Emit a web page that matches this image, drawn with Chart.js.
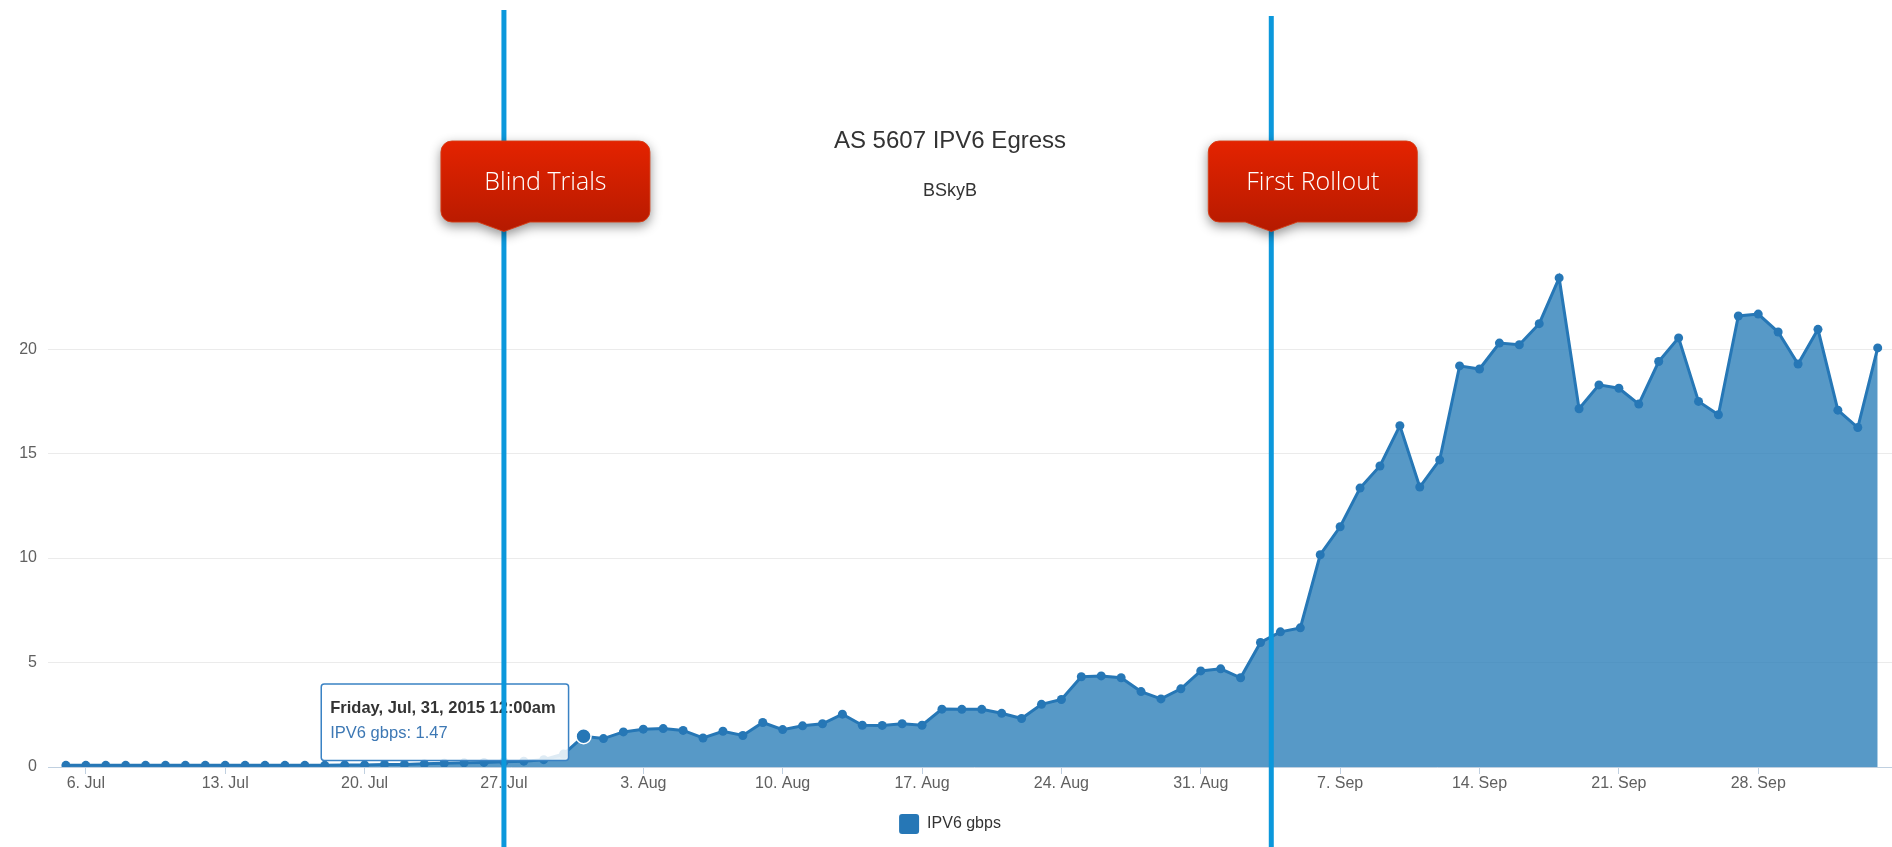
<!DOCTYPE html>
<html>
<head>
<meta charset="utf-8">
<title>AS 5607 IPV6 Egress</title>
<script src="https://cdn.jsdelivr.net/npm/chart.js@4.4.1/dist/chart.umd.min.js"></script>
<style>
  html, body { margin: 0; padding: 0; background: #fff; overflow: hidden; }
  #wrap { width: 1910px; height: 847px; }
</style>
</head>
<body>
<div id="wrap"><canvas id="egress-chart" width="1910" height="847"></canvas></div>
<script>
/* ============================================================
   AS 5607 IPV6 EGRESS — daily gbps, 5 Jul – 4 Oct 2015
   ============================================================ */

const START_DAY = '2015-07-05';   // first daily point

// one value per day, starting at START_DAY
const ipv6Gbps = [
  // Jul 5 - 31
  0.08, 0.08, 0.08, 0.08, 0.08, 0.08, 0.08, 0.08, 0.08, 0.08,
  0.08, 0.08, 0.08, 0.08, 0.1, 0.1, 0.12, 0.12, 0.15, 0.18,
  0.2, 0.22, 0.25, 0.28, 0.35, 0.62, 1.47,
  // Aug 1 - 31
  1.36, 1.68, 1.81, 1.84, 1.75, 1.39, 1.71, 1.51, 2.13, 1.79,
  1.97, 2.07, 2.53, 2.0, 1.99, 2.07, 2.0, 2.77, 2.76, 2.76,
  2.57, 2.32, 3.0, 3.23, 4.32, 4.36, 4.27, 3.61, 3.26, 3.74, 4.6,
  // Sep 1 - 30
  4.7, 4.27, 5.96, 6.47, 6.66, 10.16, 11.5, 13.35, 14.41, 16.34,
  13.4, 14.7, 19.2, 19.05, 20.29, 20.21, 21.22, 23.41, 17.15, 18.29,
  18.13, 17.37, 19.41, 20.54, 17.5, 16.86, 21.59, 21.68, 20.82, 19.29,
  // Oct 1 - 4
  20.95, 17.08, 16.25, 20.06,
];

const tickDates = ['2015-07-06', '2015-07-13', '2015-07-20', '2015-07-27', '2015-08-03', '2015-08-10',
  '2015-08-17', '2015-08-24', '2015-08-31', '2015-09-07', '2015-09-14', '2015-09-21', '2015-09-28'];
const tickLabels = ['6. Jul', '13. Jul', '20. Jul', '27. Jul', '3. Aug', '10. Aug',
  '17. Aug', '24. Aug', '31. Aug', '7. Sep', '14. Sep', '21. Sep', '28. Sep'];
const yTicks = [0, 5, 10, 15, 20];

// annotations
const markerLabels = ['Blind Trials', 'First Rollout'];
const markerDates = ['2015-07-27T00:00', '2015-09-03T13:00'];
const hoverDate = '2015-07-31';

const WEEKDAYS = ['Sunday', 'Monday', 'Tuesday', 'Wednesday', 'Thursday', 'Friday', 'Saturday'];
const MONTHS = ['Jan', 'Feb', 'Mar', 'Apr', 'May', 'Jun', 'Jul', 'Aug', 'Sep', 'Oct', 'Nov', 'Dec'];

const DAY_MS = 86400000;
const START_MS = Date.parse(START_DAY + 'T00:00:00Z');

function dayIndex(str) {
  const iso = str.length === 10 ? str + 'T00:00:00Z' : str + ':00Z';
  return (Date.parse(iso) - START_MS) / DAY_MS;
}

function tooltipTitle(offset) {
  const d = new Date(START_MS + offset * DAY_MS);
  return `${WEEKDAYS[d.getUTCDay()]}, ${MONTHS[d.getUTCMonth()]}, ${d.getUTCDate()}, ${d.getUTCFullYear()} 12:00am`;
}

const SERIES_COLOR = '#2677b6';
const FONT = "'Liberation Sans', Arial, Helvetica, sans-serif";

Chart.defaults.font.family = FONT;
Chart.defaults.color = '#606060';

// tooltip sits to the left of the hovered point, like the Highcharts original
Chart.Tooltip.positioners.leftOfPoint = function (items) {
  if (!items.length) return false;
  const el = items[0].element;
  return { x: el.x, y: el.y - 14 };
};

// ---- ROLLOUT MARKERS (vertical line + red callout) ----
function calloutPath(ctx, left, top, w, h, r, tipX, tipY) {
  const bottom = top + h;
  ctx.beginPath();
  ctx.moveTo(left + r, top);
  ctx.lineTo(left + w - r, top);
  ctx.arcTo(left + w, top, left + w, top + r, r);
  ctx.lineTo(left + w, bottom - r);
  ctx.arcTo(left + w, bottom, left + w - r, bottom, r);
  ctx.lineTo(tipX + 26, bottom);
  ctx.lineTo(tipX, tipY);
  ctx.lineTo(tipX - 26, bottom);
  ctx.lineTo(left + r, bottom);
  ctx.arcTo(left, bottom, left, bottom - r, r);
  ctx.lineTo(left, top + r);
  ctx.arcTo(left, top, left + r, top, r);
  ctx.closePath();
}

const markerPlugin = {
  id: 'rolloutMarkers',
  afterDraw(chart) {
    const { ctx } = chart;
    const xs = chart.scales.x;
    const lineTops = [10, 16];

    markerDates.forEach((d, i) => {
      const px = xs.getPixelForValue(dayIndex(d));
      ctx.save();
      ctx.strokeStyle = '#0b98dc';
      ctx.lineWidth = 5;
      ctx.beginPath();
      ctx.moveTo(px, lineTops[i]);
      ctx.lineTo(px, chart.height);
      ctx.stroke();
      ctx.restore();
    });

    markerDates.forEach((d, i) => {
      const px = xs.getPixelForValue(dayIndex(d));
      const left = px - 63, top = 141, w = 209, h = 81;
      ctx.save();
      const grad = ctx.createLinearGradient(0, top, 0, top + h + 10);
      grad.addColorStop(0, '#e42300');
      grad.addColorStop(1, '#b51a00');
      ctx.shadowColor = 'rgba(0,0,0,0.45)';
      ctx.shadowBlur = 12;
      ctx.shadowOffsetY = 4;
      calloutPath(ctx, left, top, w, h, 11, px, top + h + 9.5);
      ctx.fillStyle = grad;
      ctx.fill();
      ctx.shadowColor = 'transparent';
      ctx.strokeStyle = 'rgba(214,60,20,0.9)';
      ctx.lineWidth = 1;
      ctx.stroke();
      ctx.fillStyle = '#fff';
      ctx.font = "300 25px 'Open Sans', Lato, sans-serif";
      ctx.textAlign = 'center';
      ctx.textBaseline = 'middle';
      ctx.fillText(markerLabels[i], left + w / 2, top + 42);
      ctx.restore();
    });
  },
};

const seriesData = ipv6Gbps.map((v, i) => ({ x: i, y: v }));

const chart = new Chart(document.getElementById('egress-chart'), {
  type: 'line',
  data: {
    datasets: [{
      label: 'IPV6 gbps',
      data: seriesData,
      borderColor: SERIES_COLOR,
      backgroundColor: 'rgba(37,122,182,0.77)',
      fill: 'origin',
      borderWidth: 3,
      tension: 0,
      pointRadius: 4.5,
      pointBackgroundColor: SERIES_COLOR,
      pointBorderWidth: 0,
      pointHoverRadius: 7.5,
      pointHoverBackgroundColor: SERIES_COLOR,
      pointHoverBorderColor: '#ffffff',
      pointHoverBorderWidth: 1.5,
    }],
  },
  options: {
    responsive: false,
    animation: false,
    events: [],
    layout: { padding: { left: 0, right: 10, top: 0, bottom: 3 } },
    scales: {
      x: {
        type: 'linear',
        min: -0.9,
        max: 92.12,
        afterBuildTicks: s => { s.ticks = tickDates.map(d => ({ value: dayIndex(d) })); },
        afterFit: s => { s.height = 34; },
        grid: { drawOnChartArea: false, drawTicks: true, tickLength: 7, color: '#C0D0E0' },
        border: { display: true, color: '#C0D0E0', width: 1 },
        ticks: {
          autoSkip: false, maxRotation: 0, padding: 0,
          color: '#606060', font: { size: 16 },
          callback: (v, i) => tickLabels[i],
        },
      },
      y: {
        min: 0,
        max: 24,
        afterBuildTicks: s => { s.ticks = yTicks.map(v => ({ value: v })); },
        afterFit: s => { s.width = 48; },
        grid: { color: '#ebebeb', drawTicks: false },
        border: { display: false },
        ticks: { padding: 11, color: '#606060', font: { size: 16 } },
      },
    },
    plugins: {
      title: {
        display: true,
        text: 'AS 5607 IPV6 Egress',
        color: '#333333',
        font: { size: 24, weight: 'normal' },
        padding: { top: 127, bottom: 4 },
      },
      subtitle: {
        display: true,
        text: 'BSkyB',
        color: '#333333',
        font: { size: 18, weight: 'normal' },
        padding: { top: 20, bottom: 64.2 },
      },
      legend: {
        position: 'bottom',
        labels: {
          boxWidth: 20, boxHeight: 20, padding: 13,
          color: '#333333', font: { size: 16 },
          useBorderRadius: true, borderRadius: 3,
          generateLabels: c => Chart.defaults.plugins.legend.labels.generateLabels(c)
            .map(l => ({ ...l, fillStyle: SERIES_COLOR, strokeStyle: SERIES_COLOR, lineWidth: 0 })),
        },
      },
      tooltip: {
        position: 'leftOfPoint',
        xAlign: 'right',
        yAlign: 'center',
        caretSize: 0,
        caretPadding: 15,
        cornerRadius: 3,
        backgroundColor: 'rgba(255,255,255,0.85)',
        borderColor: '#3a82c4',
        borderWidth: 1.5,
        padding: { top: 15, bottom: 17, left: 9, right: 13 },
        titleColor: '#333333',
        titleFont: { size: 16.5, weight: 'bold' },
        titleMarginBottom: 5,
        bodyColor: '#3d78b4',
        bodyFont: { size: 16.5 },
        displayColors: false,
        callbacks: {
          title: items => tooltipTitle(items[0].parsed.x),
          label: item => 'IPV6 gbps: ' + item.parsed.y,
        },
      },
    },
  },
  plugins: [markerPlugin],
});

// show the hover state for 31 Jul, as in the screenshot
const hoverActive = [{ datasetIndex: 0, index: dayIndex(hoverDate) }];
chart.setActiveElements(hoverActive);
chart.tooltip.setActiveElements(hoverActive, { x: 0, y: 0 });
chart.update();
</script>
</body>
</html>
